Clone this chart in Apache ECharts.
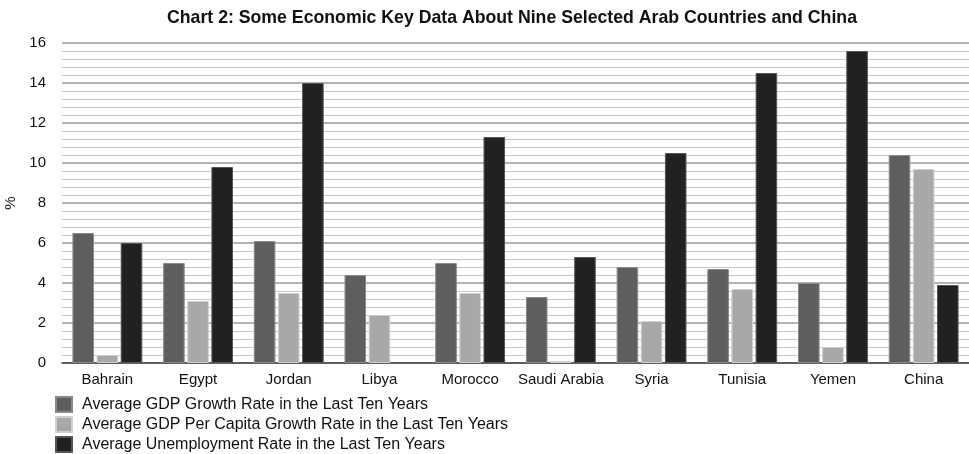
<!DOCTYPE html>
<html>
<head>
<meta charset="utf-8">
<script src="https://cdn.jsdelivr.net/npm/echarts@6/dist/echarts.min.js"></script>
<style>
html,body{margin:0;padding:0;background:#fff;}
#chart{width:969px;height:454px;}
</style>
</head>
<body>
<div id="chart"></div>
<script>
var countries = ['Bahrain','Egypt','Jordan','Libya','Morocco','Saudi Arabia','Syria','Tunisia','Yemen','China'];
var gdpGrowth = [6.5, 5.0, 6.1, 4.4, 5.0, 3.3, 4.8, 4.7, 4.0, 10.4];
var gdpPerCapita = [0.4, 3.1, 3.5, 2.4, 3.5, 0.1, 2.1, 3.7, 0.8, 9.7];
var unemployment = [6.0, 9.8, 14.0, null, 11.3, 5.3, 10.5, 14.5, 15.6, 3.9];
var seriesNames = [
	'Average GDP Growth Rate in the Last Ten Years',
	'Average GDP Per Capita Growth Rate in the Last Ten Years',
	'Average Unemployment Rate in the Last Ten Years'
];

var myChart = echarts.init(document.getElementById('chart'));
var font = 'Liberation Sans, Arial, Helvetica, sans-serif';

function bar(name, data, color, border){
	return {
		name: name,
		type: 'bar',
		data: data,
		barGap: '12%',
		barCategoryGap: '23%',
		itemStyle: { color: color, borderColor: border, borderWidth: 1 }
	};
}

var option = {
	animation: false,
	textStyle: { fontFamily: font },
	title: {
		text: 'Chart 2: Some Economic Key Data About Nine Selected Arab Countries and China',
		left: 512,
		top: 9,
		padding: 0,
		textAlign: 'center',
		textStyle: { fontSize: 17.7, fontWeight: 'bold', color: '#111', fontFamily: font }
	},
	legend: {
		orient: 'vertical',
		left: 55,
		top: 396,
		height: 60,
		padding: 0,
		itemWidth: 16,
		itemHeight: 15,
		itemGap: 3,
		icon: 'rect',
		textStyle: { fontSize: 16, color: '#111', fontFamily: font, padding: [0, 0, 0, 5] },
		data: seriesNames
	},
	grid: { left: 62, right: 0, top: 43, bottom: 91, containLabel: false, outerBoundsMode: 'none' },
	xAxis: {
		type: 'category',
		data: countries,
		axisTick: { show: false },
		axisLine: { lineStyle: { color: '#444', width: 1.5 } },
		axisLabel: { fontSize: 15, color: '#111', margin: 9, interval: 0 }
	},
	yAxis: {
		type: 'value',
		min: 0,
		max: 16,
		interval: 2,
		name: '%',
		nameLocation: 'middle',
		nameGap: 38,
		nameTextStyle: { fontSize: 15, color: '#111' },
		axisLabel: { fontSize: 15, color: '#111', margin: 16 },
		axisLine: { show: false },
		axisTick: { show: false },
		splitLine: { lineStyle: { color: '#9a9a9a', width: 1.5 } },
		minorTick: { show: false, splitNumber: 5 },
		minorSplitLine: { show: true, lineStyle: { color: '#c8c8c8', width: 1.2 } }
	},
	series: [
		bar(seriesNames[0], gdpGrowth, '#5e5e5e', '#8a8a8a'),
		bar(seriesNames[1], gdpPerCapita, '#a8a8a8', '#d0d0d0'),
		bar(seriesNames[2], unemployment, '#212121', '#555555')
	]
};
myChart.setOption(option);
</script>
</body>
</html>
